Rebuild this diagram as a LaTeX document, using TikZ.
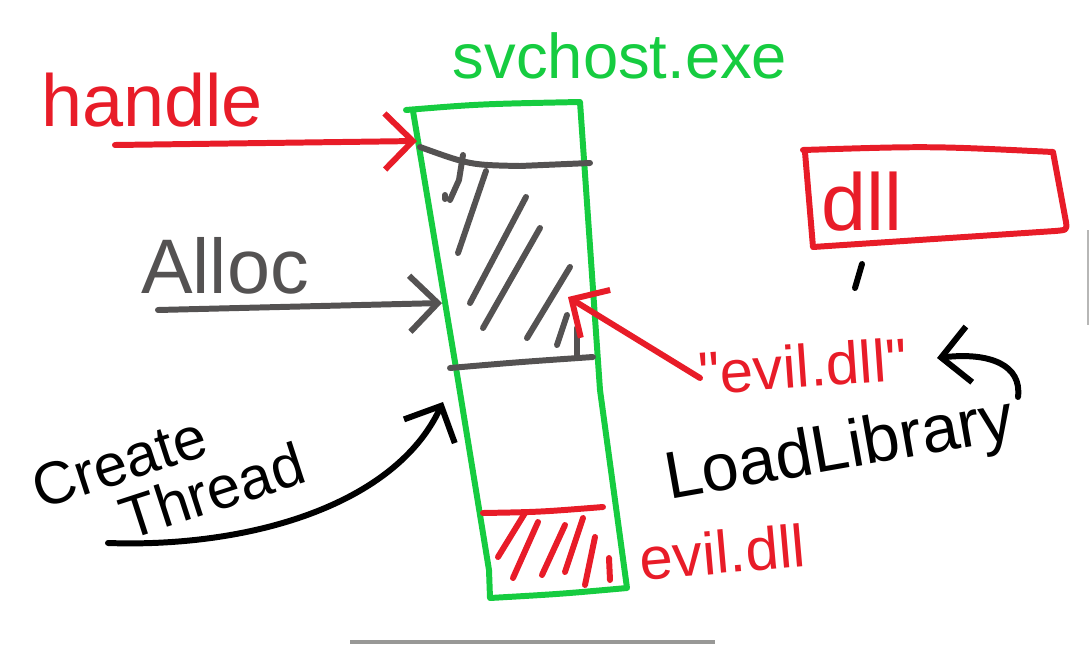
\documentclass[tikz,border=0pt]{standalone}
\usepackage{fontspec}
\setmainfont{Liberation Sans}
\usetikzlibrary{arrows.meta}

\definecolor{inkred}{RGB}{232,28,40}
\definecolor{inkgreen}{RGB}{22,204,64}
\definecolor{inkgray}{RGB}{84,82,82}
\definecolor{barcol}{RGB}{152,152,150}

\tikzset{
  pen/.style={line width=1.7pt, line cap=round, line join=round},
  barb/.style={-{Straight Barb[length=2.8mm,width=5.6mm]}},
  word/.style={inner sep=0pt, font=\fontsize{#1}{#1}\selectfont},
}

\begin{document}
\begin{tikzpicture}[x=0.01cm, y=-0.01cm]
  \useasboundingbox (0,0) rectangle (1090,645);

  % texts
  \node[word=21, inkred] (handle) at (152,100) {handle};
  \node[word=18, inkgreen] (svchost) at (620,56) {svchost.exe};
  \node[word=22, inkgray] (alloc) at (225,266) {Alloc};
  \node[inner sep=0pt, font=\fontsize{17}{16}\selectfont, align=left, rotate=18]
    (crthread) at (168,476) {Create\\\hspace{1.25em}Thread};
  \node[word=17, inkred, rotate=4] (evilstr) at (803,366) {\textquotedbl evil.dll\textquotedbl};
  \node[word=19, rotate=10] (loadlib) at (840,452) {LoadLibrary};
  \node[word=17, inkred, rotate=5] (evildll) at (722,552) {evil.dll};
  \node[word=23, inkred] (dlltxt) at (862,202) {dll};

  % svchost.exe process box
  \draw[pen, inkgreen] (406,110) .. controls (480,104) .. (580,102)
    -- (600,390) -- (627,588) .. controls (560,594) .. (490,598)
    -- (489,570) -- (458,380) -- (413,111);
  \draw[pen, inkgray] (420,147) .. controls (470,165) .. (520,166) -- (590,163);
  \draw[pen, inkgray] (450,368) .. controls (520,362) .. (593,357);
  \foreach \a/\b in {{(486,171)}/{(458,253)}, {(526,197)}/{(470,303)},
      {(540,228)}/{(483,328)}, {(570,267)}/{(527,338)},
      {(567,315)}/{(557,345)}, {(577,328)}/{(577,357)}}
    \draw[pen, inkgray] \a -- \b;
  \draw[pen, inkgray] (463,155) -- (459,180) -- (450,200);
  \draw[pen, inkgray] (445,195) -- (445,199);

  % evil.dll region
  \draw[pen, inkred] (483,513) .. controls (540,512) .. (603,507);
  \foreach \a/\b in {{(525,513)}/{(498,557)}, {(538,522)}/{(513,578)},
      {(565,525)}/{(542,575)}, {(583,518)}/{(565,572)},
      {(595,537)}/{(585,585)}, {(609,558)}/{(610,580)}}
    \draw[pen, inkred] \a -- \b;

  % dll on disk
  \draw[pen, inkred] (803,150) .. controls (930,146) .. (1053,152)
    -- (1066,222) .. controls (1067,230) .. (1055,231)
    -- (813,247) -- (805,152);
  \draw[pen] (862,264) -- (855,288);

  % connectors
  \coordinate (hdlstart) at (115,145);
  \coordinate (hdltip) at (417,141);
  \coordinate (allocstart) at (158,310);
  \coordinate (alloctip) at (442,303);
  \coordinate (threadstart) at (108,543);
  \coordinate (threadtip) at (443,402);
  \coordinate (strstart) at (700,378);
  \coordinate (strtip) at (568,297);
  \coordinate (loadstart) at (1018,397);
  \coordinate (loadtip) at (937,358);

  \draw[pen, barb, inkred] (hdlstart) -- (hdltip);
  \draw[pen, barb, inkgray] (allocstart) -- (alloctip);
  \draw[pen, barb] (threadstart) .. controls (250,548) and (395,505) .. (threadtip);
  \draw[pen, barb, inkred] (strstart) -- (strtip);
  \draw[pen, barb] (loadstart) .. controls (1022,365) and (990,352) .. (loadtip);

  % screen bars
  \draw[line width=1.1pt, barcol] (350,642) -- (715,642);
  \draw[line width=0.4pt, barcol!70] (1088,230) -- (1088,325);
\end{tikzpicture}
\end{document}
